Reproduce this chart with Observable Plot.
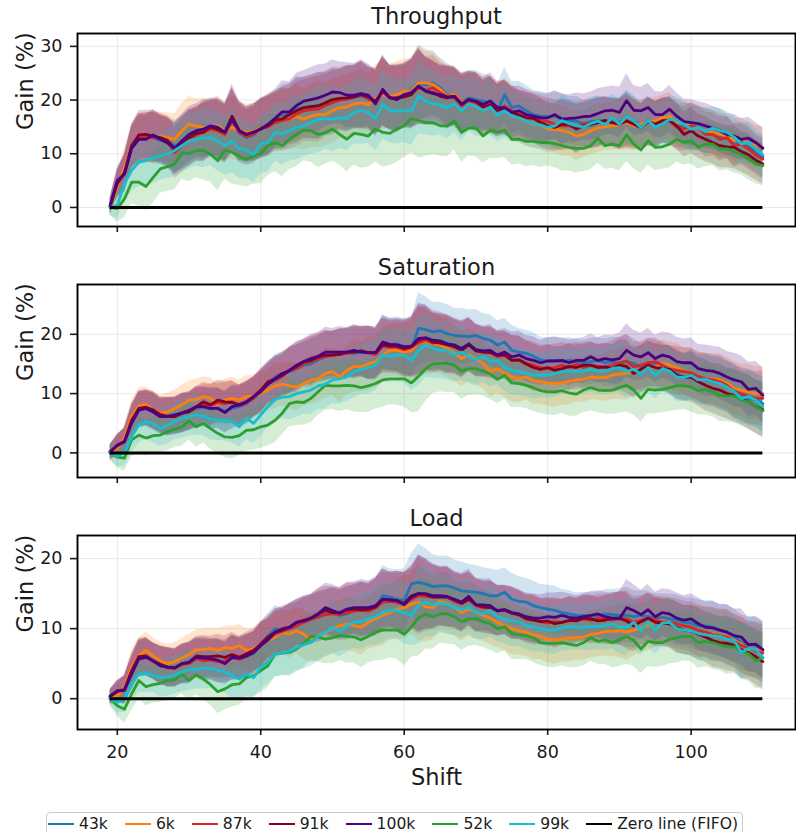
<!DOCTYPE html>
<html>
<head>
<meta charset="utf-8">
<script src="https://cdn.jsdelivr.net/npm/d3@7"></script>
<script src="https://cdn.jsdelivr.net/npm/@observablehq/plot@0.6"></script>
<style>
  html, body { margin: 0; padding: 0; background: #fff; }
  body { font-family: "DejaVu Sans", sans-serif; }
  #root { position: relative; width: 796px; height: 832px; overflow: hidden; background: #fff; }
  .panel { position: absolute; left: 0; }
  .panel svg { overflow: visible; }
  g[aria-label="x-axis tick"] path, g[aria-label="y-axis tick"] path,
  g[aria-label="x-axis tick"] line, g[aria-label="y-axis tick"] line { stroke-width: 1.6px; }
  #legend { position: absolute; left: 46px; top: 812px; height: 40px; box-sizing: border-box;
    border: 1px solid #cccccc; border-radius: 4px; background: #fff;
    display: flex; align-items: center; padding: 0 4px 16px 1px;
    font-size: 15.6px; line-height: 16px; color: #1a1a1a; white-space: nowrap; }
  .item { display: flex; align-items: center; margin-right: 17px; }
  .item:last-child { margin-right: 0; }
  .swatch { width: 26px; height: 2.8px; margin-right: 5px; }
</style>
</head>
<body>
<div id="root"></div>
<script>
// ---------- data ----------
const SHIFTS = d3.range(19, 111); // shift values 19..110
const SERIES_NAMES = ["43k", "6k", "87k", "91k", "100k", "52k", "99k"];
const SERIES_COLORS = ["#1f77b4", "#ff7f0e", "#d62728", "#85001f", "#4b0082", "#2ca02c", "#17becf"];
const ZERO_LABEL = "Zero line (FIFO)";
const X_TICKS = [20, 40, 60, 80, 100];
const PANEL_TITLES = ["Throughput", "Saturation", "Load"];

// Throughput gain (%)
const thr43k = [0.2,4.3,6.4,11.5,13,13,13,12.5,12.3,11.5,12,13,13.5,14.3,14.8,14.6,13.8,16,13.8,13,13.5,15,15.3,16.2,17,17.5,18.4,18.5,18.6,19,19.3,19.7,20,20.2,20.5,20.8,20.2,19.8,21.5,20.6,20.5,21,21.2,23.2,22.8,23.2,22.3,21,20.7,19.5,20.4,20.1,19.8,19.2,18,21,18.6,18.9,18,17.3,17,16.9,17,16.6,16.2,16.1,15.6,16,16.1,16.2,16,15.8,16.7,16.1,15.4,16.1,15.5,16.2,16.1,15.4,15.2,14.9,14.6,14.3,14,13.1,13,11.7,12.1,11.3,10.2,9.4];
const thr6k = [0.2,3.8,7.5,11.5,13,13.1,13,13.3,13,12.7,14.3,15.5,15.2,14.9,14.6,15.2,14.3,14.9,14.3,14,14.1,14.9,15.4,16.1,16.7,16.4,17,16.4,17,17.3,17.3,18,18.6,18.7,19.3,19.5,19.1,20.4,21,20.7,21,21.7,21.4,23.2,23.2,22.9,22,20.7,21,19.5,20.1,19.8,19.2,19.1,18.5,18.6,17.5,16.7,16.1,15.5,15.4,14.6,14.6,14.3,14,13.3,13.6,14.3,14.8,15,15.2,15.4,15.8,15.2,15.6,15.8,16.2,16.7,17,15.8,15.5,15.2,14.6,14.3,14,13.6,13.3,12.5,12.9,11.9,11.5,11.2];
const thr87k = [0.3,4.4,6.3,11.2,13,13.2,13,12.8,12.2,10.2,11.5,12.8,13.5,14,14.6,14.3,13.6,16.2,14,13.2,13.6,14.8,15,15.8,16.2,16.5,17.4,18,18.2,18.3,19,19.5,20,20.2,20.6,21,20.3,19.5,21.5,20.5,20.2,20.8,21.2,22.3,21.8,22.3,21.4,20.6,20.4,18.9,19.8,19.5,18.6,19.1,18,18.9,18,17.3,16.9,16.7,16.2,16,15.5,15.2,15.2,14.9,15.6,15.5,15.8,16.1,15.8,15.5,16.4,15.8,14.9,16.1,15.4,16.2,16.1,14.9,14.6,15.2,14.9,13.6,13.6,12.7,13,11.5,11.8,10.9,9.8,9];
const thr91k = [0.3,4.5,6.5,11.5,13.5,13.6,13.3,13,12.5,10.9,12,13,13.8,14,15,14.5,14,17,14.3,13.6,14,14.6,15.2,16.3,16.5,17.3,18,18.6,18.8,18.9,19.5,20.1,20.3,20.4,20.6,21,20.6,19.8,21.7,20.4,20.4,20.6,21,22.6,21.6,21.4,20.7,20.4,20.7,19.3,20.1,19.7,18.7,19.1,18.1,18.5,17.7,17.2,16.7,16.6,15.8,15.2,14.9,15.5,15.5,14.6,15.2,15.4,15.8,16.2,15.8,15.5,16.1,15.5,14.9,16,15.5,16.1,16.2,15.2,13.6,14.3,13.3,12.7,12.1,11.5,11.3,11.2,10.4,9.8,8.8,8.1];
const thr100k = [0.4,5,6.2,11,12.7,12.7,13.5,12.7,12,11,12.4,13.6,14.3,14.6,15.2,14.9,14,16.4,14.3,13.6,14,14.6,15.5,16.6,17.8,17.8,19,19.8,20.1,20.4,20.9,21.5,21.4,20.9,20.9,21.2,20.9,19.3,22,20.4,20.1,21,21.4,22.6,21.7,21.2,21,20.6,20.7,19.2,20.1,19.8,19.2,19.8,18.6,18.6,17.7,18,17.3,17,16.7,16.7,17.3,16.4,16.6,16.7,16.9,17,17.5,18,18.1,17.7,19.9,18.1,18,18.6,17.3,17.3,18.3,17,16,15.8,15.6,15.2,14.8,14.3,13.6,13.3,12.7,12.9,12.1,11];
const thr52k = [0,-0.2,1.6,4.7,4.7,3.9,5.6,7.2,7.6,8.1,10.2,10,10.6,10.6,9.9,8.7,10.7,10.3,9.6,9,9.6,10,11.5,12.1,11.5,12.7,13.6,14.4,14.3,13.6,13.9,14.6,13.6,12.7,13.8,13.6,13.3,14.6,14,13.8,14.6,15.2,16.6,16.2,15.8,15.8,15.2,15.2,16.1,14,14.8,14.8,13.3,14.4,14,14.4,12.7,12.7,12.3,12.3,12.1,12.1,11.9,11.5,11.2,11,11,11.5,12.9,11.5,11.8,11.5,13.5,11.8,10.7,12.4,11.2,11.3,11.8,12.7,12.1,12.4,11.2,11.8,11.8,10.9,10.9,10.4,9.9,9,8.1,7.8];
const thr99k = [0,0.4,4.4,6.9,8.4,8.8,9.2,9.6,10,10.6,11.5,12.4,12.7,12.9,13,12.4,11.5,12.4,10.9,10.7,9.9,11.8,12.1,14,13.7,14.3,14.9,15.2,15.8,16.4,16.6,16.4,16.7,16.6,17.7,18.1,17.7,16.6,19.2,18,18,18,18,20.7,19.8,19.3,19.1,18.6,19.3,18,19.3,18.7,18.1,18.7,17.2,18,17,16.7,16.1,15.6,15.4,14.9,15.2,16.2,15.6,15.2,15,15.6,16.1,15.4,16.7,15.5,16.9,16.1,14.9,16.2,15,15.6,16.4,16.2,15.5,14.6,14.9,14.1,14.8,14.3,14,13.1,11.8,12.1,10.9,9.8];
// band half-width (spread) of the throughput panel
const thrSpread = [1.5,2.5,3.5,4,4.5,4.5,4.8,4.5,4.6,4.8,5,5.2,5,5.5,5.2,5.6,5.4,6,5.5,5.2,5.3,5.5,5.6,5.4,5.8,5.6,6,5.7,5.9,6.2,5.8,6,5.7,6.1,5.9,6.3,5.8,6.1,6.5,6,6.2,5.9,6.4,7,6.3,6,5.6,5.8,5.4,5.6,5.2,5.4,5,5.3,4.9,5.1,4.8,4.6,4.7,4.5,4.6,4.4,4.5,4.7,4.4,4.6,4.3,4.5,4.6,4.4,4.5,4.7,5,4.6,4.4,4.5,4.3,4.2,4.4,4.3,4.2,4.3,4.1,4.2,4,4.1,3.9,4,3.8,3.9,3.7,3.8];

// Saturation gain (%)
const sat43k = [0.1,1.2,2.1,5.4,7.3,7.5,7,6.3,6.2,6.3,6.6,7,7.5,7.7,7.4,7.6,7,7.5,7.8,8.3,9.2,10.2,11.7,12.8,13.4,13.7,14.2,14.8,15,15.7,16.2,16.5,16.6,16.9,16.8,17,16.9,16.6,18.5,18.3,18.4,17.9,17.6,21,20.8,20.4,20.6,20.1,19.8,19.7,19.6,19.8,19.3,19,18.2,18.7,17.3,17,16.8,16.3,15.7,15.5,15.6,15.4,15.6,15.4,15.2,15.4,15.6,15.2,15.4,15.1,15.4,15.1,14.5,15.2,15.1,14.5,13.9,13.4,12.8,13.1,12.5,12.3,12,11.7,11.1,10.6,9.7,9.2,8.9,8.3];
const sat6k = [0,0.8,2.5,6.1,7.9,8.2,7.2,6.7,6.9,7.5,8.1,8.9,9,9.5,9.2,8.1,8.9,9.2,8.9,9.5,9.6,10,10.6,11.3,11.6,11.3,11.1,11.7,12.3,12.5,13.4,13.7,12.8,13.9,14.6,14.5,15,15.4,16.5,17.3,17.3,17,17.2,18.7,18.7,18.4,18.2,17.6,16.8,15.9,16.5,15.9,15.1,13.7,14.2,13.4,12.8,12.5,12.8,12.2,12,11.8,11.7,11.8,12,12.3,12.4,12.8,12.7,12.7,13.1,13.3,13.4,13.7,14.1,14.6,14.4,15.1,14.8,14.4,13.8,13.5,12.8,12.5,12.5,12.3,11.8,10.9,10.6,10.3,10,10];
const sat87k = [0.2,1.2,2,5.3,7.4,7.6,7.3,6.5,6.2,6.3,6.8,7,7.6,8.2,8,8.5,8.3,8.6,8,8.4,9.3,10.6,11.6,12.2,12.9,14,14.2,15.1,15.4,15.9,16.3,16.5,16.6,16.8,17,17.2,16.8,16.6,18,17.8,17.8,17.4,17.8,18.6,19,18.5,18.7,18.4,17.9,17.6,18.2,17.3,17,17,16.2,16.5,15.6,15.7,15.1,14.8,14.4,14.2,14.4,14.8,14.4,15,14.4,14.8,14.6,14.4,14.8,15.2,15.5,14.5,14.8,15.2,15.4,14.8,14.1,13.9,13.7,13.5,12.9,12.5,12.3,12,11.4,10.3,10,9.5,9.2,9.2];
const sat91k = [0.2,1.3,1.9,5.5,7.5,7.7,7.2,6.4,6.1,6.1,6.7,6.9,7.8,8.6,8.1,8.9,8.6,8.5,8.1,8.6,9.5,10.6,12,12.5,13.1,13.9,14.6,15.4,15.6,16.2,16.5,16.5,16.6,17,17,17.2,16.9,16.9,18.2,18,18,17.6,17.9,19,19.4,18.7,18.5,18.2,17.9,17.3,18.2,17.2,17,16.9,16.5,16.5,15.6,15.7,15,14.4,14.1,14.4,13.9,14.2,14.6,14.4,14.8,14.8,14.4,14.5,14.2,14.8,14.6,13.4,14.1,14.8,14.4,14.2,14.1,13.1,12.7,12.8,12,11.4,10.9,10.6,10,9.7,9.2,8.6,7.8,7.3];
const sat100k = [0.2,1.3,1.9,5,7.2,7.5,6.9,6.1,6.1,6.4,6.7,7.2,7.8,7.8,7.5,7.5,6.8,7.8,8.1,8.6,9.5,10.3,11.6,12.5,13.4,13.9,14.8,15.4,15.9,16.3,17,17,17,17,17.3,17,16.9,16.9,18.7,18.3,18.2,17.9,18,19.3,19.4,19,18.9,18.4,18.2,17.6,18.4,17.4,17.2,17.3,16.5,17,16.2,16.5,15.9,15.6,15.2,15.5,15.5,15.6,15.2,15.6,15.6,16.2,15.6,15.9,15.7,15.9,17.3,16.5,16.2,16.9,15.9,16.5,16.2,15.4,15.2,15.2,14.2,13.9,13.8,13.4,12.8,12.3,12,10.7,10.9,9.7];
const sat52k = [0,-0.7,-0.9,2.2,3,2.5,2.9,3,3.6,4,4.4,5.4,4.4,5,4.1,3.3,2.7,2.6,2.9,3.8,3.9,4.4,4.7,5.5,6.7,8.3,8.6,8.5,9.2,10.3,11.4,11.3,11.3,11.4,11.3,11,11.3,11.7,12.3,12.5,12.5,12.5,11.8,12.9,14.2,15,15.1,15.1,14.8,13.8,14.2,14.2,13.8,13.3,12.4,13.1,11.8,11.7,11.4,11,10.5,10.3,10.3,10.5,10.1,9.9,10.6,11,10.6,10.5,10.6,11,11.4,10.6,9.2,10.7,10.6,10.7,11,11.3,11.3,11.1,10.5,10.7,10.3,9.7,9.6,9.6,8.9,8.6,7.8,7.1];
const sat99k = [0,-0.5,0,2.7,4.7,5.3,4.9,4.1,4.7,5.3,5.8,6.1,6.4,6.2,5.7,5.5,5.5,5.3,4.4,5.8,5,6.4,7.8,9,9.4,9.5,10,10.3,10.6,11.3,11.6,12.3,12.5,12.8,13.7,14.1,14.4,14.8,16.5,16.3,16.5,16.5,15.6,17.3,18.2,17.6,17.3,17.3,16.5,17,16.2,15.7,16.2,15.4,15.6,14.4,13.9,13.7,13.4,13.1,13.1,13.1,13.4,13.7,13.8,13.7,13.8,14.1,13.8,13.8,14.2,14.4,13.7,14.1,13.3,14.4,13.1,14.2,13.8,12.8,12.7,13.1,12.3,12.4,12,11.7,11.1,10.3,9.2,9.5,8.9,7.8];
const satSpread = [1.2,1.8,2.2,2.8,3,3,3.1,3,3.2,3.1,3.3,3.2,3.4,3.3,3.5,3.4,3.5,3.6,3.4,3.5,3.4,3.6,3.5,3.8,3.6,3.9,4,3.8,4.1,4,4.2,4,4.3,4.1,4.4,4.2,4.5,4.3,4.6,4.4,4.5,4.7,5,6,5.5,5,4.8,4.9,4.6,4.7,4.5,4.4,4.2,4.3,4.1,4,4.2,4,3.9,4,3.8,3.9,4,3.8,3.9,3.7,3.8,3.9,3.8,4,4.1,4.3,4.5,4.2,4,4.1,4,3.9,4,4.1,4,4.2,4.1,4.3,4.2,4.4,4.3,4.5,4.4,4.6,4.5,4.6];

// Load gain (%)
const load43k = [0.2,1,1.3,3.7,5.7,5.9,5.3,4.8,4.5,4.5,4.9,5.1,5.8,5.6,5.6,5.5,5.2,5.8,5.7,6,6.5,7.8,9,10,9.7,10.2,10.7,10.9,11.4,11.6,12.1,12.2,11.9,12.1,12.6,12.7,12.6,13,14.7,14.5,14.2,14,16.4,16.6,16.4,16,16.1,16.1,15.8,15.4,15.3,15.2,15,14.7,14.7,15.2,14.2,13.9,13.8,13.3,13,12.8,12.6,12.3,12.1,11.9,11.9,11.7,11.9,12.1,12,11.9,11.9,11.7,11.9,11.7,11.5,11.6,11.4,11.2,10.9,10.8,10.4,10.4,10.2,9.7,9.5,9,8,7.8,7.6,6.9];
const load6k = [0.2,0.4,1.6,4.5,6.1,6.9,6.1,5.4,5,5.3,5.8,6.3,7,7,7.2,6.9,7.3,7.2,7.6,6.9,7.1,7.8,8.3,8.8,9.5,9.2,9.7,9.2,8.5,9,9.5,10,10.4,10.7,10.4,10.2,10.9,11.4,11.9,12.3,12.8,13,13.5,13.8,13.1,13,13.9,13.6,13,12.3,12.8,12.3,11.9,11.5,10.9,10.4,10,9.7,9.5,9.1,8.9,8.5,8.4,8.5,8.7,8.7,8.8,9.2,9.3,9.6,9.6,9.7,9.5,9.8,10.1,10.4,10.9,11.2,10.9,10.2,9.8,9.8,9.5,9.5,9.3,9.1,8.9,8.3,7.8,6.9,7,6.8];
const load87k = [0.3,1,1.2,3.8,5.8,6,5.3,4.8,4.4,4.3,4.9,5,5.7,5.4,5.5,5.3,5.4,5.9,5.6,6,6.6,7.6,8.4,9.2,9.6,10,10.4,10.9,11.3,11.7,12,12.1,12,12.3,12.5,12.6,12.5,13,13.8,13.9,13.7,13.6,14.2,14.7,14.6,14.5,14.6,14.5,13.9,13.6,14.2,13.3,13,13,12.6,12.6,12.2,11.9,11.5,11.4,11,10.8,11,10.9,11.1,11.2,11.4,11.2,11.5,11.4,11.2,11.5,11.4,10.9,11.2,11.5,11.2,11,10.9,10.7,10.4,10.2,9.7,9.5,9.2,9,8.8,8.2,7.6,7.2,6.8,6.5];
const load91k = [0.3,1.1,1.3,4,6,6.1,5.4,4.9,4.5,4.4,5,5.2,6.1,6,6,6.1,5.9,6.3,5.9,6.4,6.9,7.8,8.8,9.5,10,10.2,10.9,11.2,11.5,12.1,12.6,12.3,12.3,12.7,12.8,12.7,12.8,13.1,14.2,14.1,14,13.6,14.7,15,14.9,14.5,14.5,14.5,14.1,13.6,14.2,13.4,13.1,13,12.6,12.7,12.2,12,11.4,11.2,11,11.1,10.7,10.9,11.2,11.1,11.5,11.4,11.1,11.2,11.5,11.5,11.1,10.4,11,11.5,10.9,10.8,10.7,10.2,9.8,9.7,9.2,8.8,8.3,8,7.9,7.6,7,6.6,6,5.3];
const load100k = [0.4,1.1,1.2,3.5,5.7,5.9,5.4,4.7,4.5,4.4,5,5.2,5.9,5.8,5.7,5.5,5,5.9,5.8,6.1,6.6,7.6,8.4,9.5,9.8,10.2,10.9,11.1,11.5,12.1,13,12.6,12.2,12.8,13,13,13,13.3,14.2,14.1,14,13.4,14.5,15,15,14.7,14.7,14.6,14.2,13.8,14.6,13.4,13.4,13.3,12.5,12.7,12.3,12.1,11.7,11.5,11.5,11.7,11.6,11.9,11.6,11.5,11.7,11.9,12.1,11.7,11.5,11.4,13,12.6,12,12.7,11.7,12.3,12.1,11.5,11.2,11.4,10.7,10.2,10.1,9.8,9.5,9,8.8,7.7,7.8,7];
const load52k = [0,-1,-1.5,0.7,2.6,1.7,2,2.2,2.6,2.7,3.5,2.6,3.4,2.8,2,1,1.4,2,2.1,3,3.3,4,4.7,6.4,6.5,6.6,7.1,7.9,8.9,8.8,8.5,8.7,9,8.9,8.8,8.4,8.9,9.5,9.8,9.8,9.8,9.2,10.2,11.6,12.1,11.7,12.1,12.1,11.7,11,11.4,11.4,11,10.7,10,10.3,9.3,9.1,9,8.7,8,7.9,7.9,8,7.8,7.6,8,8.7,8.2,8.4,8,8.4,8.9,8.3,7.1,8.2,8,8,8.5,8.7,8.9,8.9,8,8.2,8,7.7,7.4,7.4,6.8,6.4,5.4,5.8];
const load99k = [0,-0.5,0,2.1,3.5,3.6,3.4,3,3.1,3.4,3.8,4.1,4.2,4.4,4.4,4.1,3.8,3.3,2.8,3.5,3,4.5,5.2,6.4,6.5,6.8,7.3,7.7,8,8.9,9.5,10.2,9.6,10.4,10.9,11,11.4,11.7,12.3,12.6,12.6,12.3,11.9,13.3,13.8,13.4,13.6,13.5,13,12.7,13.1,12.3,12.1,12.6,11.7,11.4,11.1,11,10.4,10.2,10,9.8,9.8,10.1,10.3,10.2,10.2,10.3,10.3,10.4,10.7,10.2,10.2,10.9,9.7,11,9.8,10.8,10.9,10,9.8,9.7,9.3,9.1,9,8.9,8.5,8.3,6.6,7.2,7,5.9];
const loadSpread = [1,1.5,2,2.4,2.6,2.7,2.6,2.7,2.8,2.7,2.8,2.9,2.8,3,2.9,3.1,3,3.2,3,3.1,3,3.2,3.1,3.3,3.2,3.4,3.3,3.5,3.4,3.6,3.5,3.7,3.6,3.8,3.7,4,3.8,4.1,4.3,4,4.2,4.5,4.3,5.5,5,4.6,4.2,4.3,4,4.1,3.9,3.8,3.7,3.8,3.6,3.5,3.7,3.5,3.4,3.5,3.3,3.4,3.5,3.3,3.4,3.2,3.3,3.4,3.3,3.5,3.6,3.8,4,3.7,3.5,3.6,3.5,3.4,3.5,3.6,3.5,3.6,3.7,3.6,3.8,3.7,3.9,3.8,4,3.9,4,4.1];

const ZERO_VALUE = 0;

// ---------- drawing ----------
const root = document.getElementById("root");
const FONT = "DejaVu Sans, sans-serif";

function makePanel({title, series, spread, yDomain, yTicks, showXLabels, top, height, marginTop, marginBottom}) {
  const marks = [
    Plot.ruleX(X_TICKS, {stroke: "#e9e9e9", strokeWidth: 1}),
    Plot.ruleY(yTicks, {stroke: "#e9e9e9", strokeWidth: 1})
  ];
  const tables = series.map((arr, k) => arr.map((v, i) => ({
    name: SERIES_NAMES[k], s: SHIFTS[i], v, lo: v - spread[i], hi: v + spread[i]
  })));
  tables.forEach((rows, k) => {
    marks.push(Plot.areaY(rows, {x: "s", y1: "lo", y2: "hi", fill: SERIES_COLORS[k], fillOpacity: 0.2}));
  });
  tables.forEach((rows, k) => {
    marks.push(Plot.lineY(rows, {x: "s", y: "v", stroke: SERIES_COLORS[k], strokeWidth: 2.8}));
  });
  marks.push(Plot.ruleY([ZERO_VALUE], {x1: SHIFTS[0], x2: SHIFTS[SHIFTS.length - 1], stroke: "#000", strokeWidth: 3}));
  marks.push(Plot.frame({stroke: "#000", strokeWidth: 1.9}));
  marks.push(Plot.text([title], {frameAnchor: "top", lineAnchor: "bottom", dy: -10, fontSize: 22.5, fill: "#1a1a1a"}));
  marks.push(Plot.text(["Gain (%)"], {frameAnchor: "left", rotate: -90, dx: -52, fontSize: 22.5, fill: "#1a1a1a"}));
  if (showXLabels) {
    marks.push(Plot.text(["Shift"], {frameAnchor: "bottom", lineAnchor: "bottom", dy: 55, fontSize: 22.5, fill: "#1a1a1a"}));
  }
  const chart = Plot.plot({
    width: 796,
    height,
    marginLeft: 77,
    marginRight: 1,
    marginTop,
    marginBottom,
    style: {fontFamily: FONT, fontSize: "17.5px", color: "#1a1a1a", background: "transparent", overflow: "visible"},
    x: {domain: [14.45, 114.55], ticks: X_TICKS, tickSize: 6, tickPadding: 10, label: null,
        tickFormat: showXLabels ? (d => String(d)) : (() => "")},
    y: {domain: yDomain, ticks: yTicks, tickSize: 7, tickPadding: 8, label: null},
    marks
  });
  const wrap = document.createElement("div");
  wrap.className = "panel";
  wrap.style.top = top + "px";
  wrap.appendChild(chart);
  root.appendChild(wrap);
}

makePanel({title: PANEL_TITLES[0], series: [thr43k, thr6k, thr87k, thr91k, thr100k, thr52k, thr99k], spread: thrSpread,
  yDomain: [-3.55, 32.4], yTicks: [0, 10, 20, 30], showXLabels: false, top: 0, height: 250, marginTop: 33, marginBottom: 24});
makePanel({title: PANEL_TITLES[1], series: [sat43k, sat6k, sat87k, sat91k, sat100k, sat52k, sat99k], spread: satSpread,
  yDomain: [-4.15, 28.4], yTicks: [0, 10, 20], showXLabels: false, top: 250, height: 250, marginTop: 34, marginBottom: 23});
makePanel({title: PANEL_TITLES[2], series: [load43k, load6k, load87k, load91k, load100k, load52k, load99k], spread: loadSpread,
  yDomain: [-4.4, 23.3], yTicks: [0, 10, 20], showXLabels: true, top: 500, height: 300, marginTop: 35, marginBottom: 71});

// legend
const legend = document.createElement("div");
legend.id = "legend";
const legendItems = SERIES_NAMES.map((n, i) => ({label: n, color: SERIES_COLORS[i]})).concat([{label: ZERO_LABEL, color: "#000"}]);
legendItems.forEach(it => {
  const item = document.createElement("div");
  item.className = "item";
  const sw = document.createElement("span");
  sw.className = "swatch";
  sw.style.background = it.color;
  const tx = document.createElement("span");
  tx.textContent = it.label;
  item.appendChild(sw);
  item.appendChild(tx);
  legend.appendChild(item);
});
root.appendChild(legend);
</script>
</body>
</html>
